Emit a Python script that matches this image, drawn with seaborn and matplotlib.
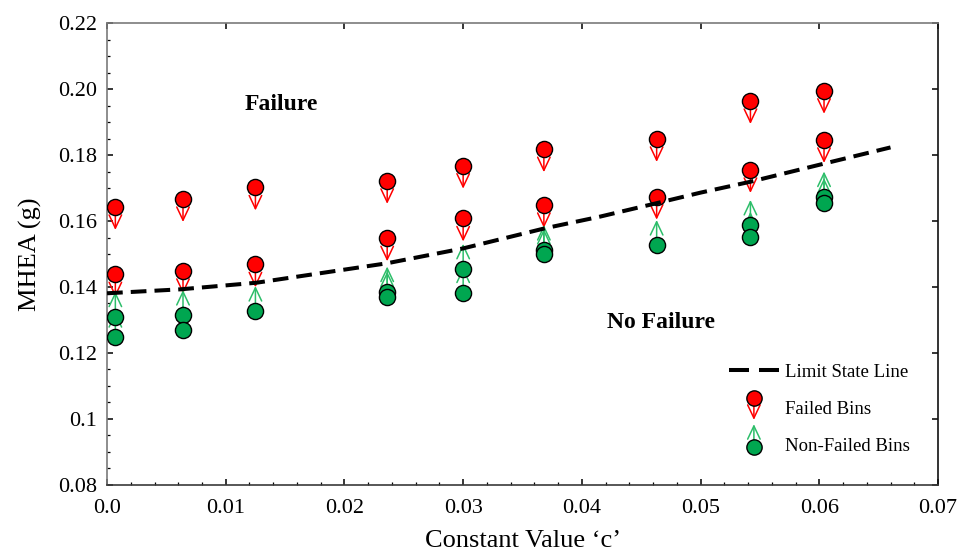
import matplotlib
matplotlib.use("Agg")
import matplotlib.pyplot as plt
import seaborn as sns
import pandas as pd
from matplotlib.lines import Line2D
from matplotlib.patches import FancyArrowPatch
from matplotlib.legend_handler import HandlerBase
from matplotlib.ticker import MultipleLocator, FixedLocator, FixedFormatter

# ---------------- data ----------------
failed_c = [0.0007, 0.0007, 0.0064, 0.0064, 0.0125, 0.0125, 0.0236, 0.0236, 0.0300,
            0.0300, 0.0368, 0.0368, 0.0463, 0.0463, 0.0542, 0.0542, 0.0604, 0.0604]
failed_v = [0.1643, 0.1439, 0.1667, 0.1449, 0.1702, 0.1469, 0.1722, 0.1548, 0.1768,
            0.1608, 0.1818, 0.1649, 0.1849, 0.1674, 0.1964, 0.1755, 0.1995, 0.1846]
nonfailed_c = [0.0007, 0.0007, 0.0064, 0.0064, 0.0125, 0.0236, 0.0236, 0.0300, 0.0300,
               0.0368, 0.0368, 0.0463, 0.0542, 0.0542, 0.0604, 0.0604]
nonfailed_v = [0.1310, 0.1248, 0.1315, 0.1270, 0.1327, 0.1386, 0.1371, 0.1455, 0.1383,
               0.1512, 0.1500, 0.1527, 0.1588, 0.1552, 0.1674, 0.1654]
limit_c = [0.0, 0.0062, 0.0126, 0.0236, 0.0300, 0.0369, 0.0415, 0.0463, 0.0500,
           0.0542, 0.0603, 0.0660]
limit_v = [0.1381, 0.1393, 0.1413, 0.1472, 0.1517, 0.1578, 0.1613, 0.1654, 0.1686,
           0.1719, 0.1773, 0.1823]

x_ticks = [0.0, 0.01, 0.02, 0.03, 0.04, 0.05, 0.06, 0.07]
x_ticklabels = ["0.0", "0.01", "0.02", "0.03", "0.04", "0.05", "0.06", "0.07"]
y_ticks = [0.08, 0.10, 0.12, 0.14, 0.16, 0.18, 0.20, 0.22]
y_ticklabels = ["0.08", "0.1", "0.12", "0.14", "0.16", "0.18", "0.20", "0.22"]

labels = ["Limit State Line", "Failed Bins", "Non-Failed Bins"]
region_texts = ["Failure", "No Failure"]

# ---------------- styling ----------------
sns.set_theme(style="ticks")
plt.rcParams["font.family"] = ["Liberation Serif", "DejaVu Serif"]
plt.rcParams["text.color"] = "black"
plt.rcParams["axes.labelcolor"] = "black"
plt.rcParams["xtick.color"] = "black"
plt.rcParams["ytick.color"] = "black"

RED = "#FF0000"
GREEN = "#00A650"
GREEN_ARROW = "#2DBE6A"
RED_LEN = 0.0070
GREEN_LEN = 0.0076
ARROW_STYLE = "->,head_length=0.95,head_width=0.45"

fig = plt.figure(figsize=(9.66, 5.52), dpi=100)
ax = fig.add_axes([0.1108, 0.1214, 0.8602, 0.8369])

# limit state line
sns.lineplot(x=limit_c, y=limit_v, ax=ax, color="black", linewidth=2.9, zorder=4,
             sort=False)
ax.lines[-1].set_dashes([3.9, 2.0])

# arrows
for c, v in zip(failed_c, failed_v):
    ax.annotate("", xy=(c, v - RED_LEN), xytext=(c, v),
                arrowprops=dict(arrowstyle=ARROW_STYLE, color=RED, lw=1.1,
                                shrinkA=0, shrinkB=0, mutation_scale=10),
                zorder=2)
for c, v in zip(nonfailed_c, nonfailed_v):
    ax.annotate("", xy=(c, v + GREEN_LEN), xytext=(c, v),
                arrowprops=dict(arrowstyle=ARROW_STYLE, color=GREEN_ARROW, lw=1.1,
                                shrinkA=0, shrinkB=0, mutation_scale=10),
                zorder=2)

# circles
df_f = pd.DataFrame({"c": failed_c, "v": failed_v})
df_n = pd.DataFrame({"c": nonfailed_c, "v": nonfailed_v})
sns.scatterplot(data=df_f, x="c", y="v", ax=ax, color=RED, s=135,
                edgecolor="black", linewidth=1.0, zorder=3, legend=False)
sns.scatterplot(data=df_n, x="c", y="v", ax=ax, color=GREEN, s=135,
                edgecolor="black", linewidth=1.0, zorder=3, legend=False)

# axes
ax.set_xlim(0.0, 0.07)
ax.set_ylim(0.08, 0.22)
ax.xaxis.set_major_locator(FixedLocator(x_ticks))
ax.xaxis.set_major_formatter(FixedFormatter(x_ticklabels))
ax.yaxis.set_major_locator(FixedLocator(y_ticks))
ax.yaxis.set_major_formatter(FixedFormatter(y_ticklabels))
ax.xaxis.set_minor_locator(MultipleLocator(0.002))
ax.yaxis.set_minor_locator(MultipleLocator(0.005))
ax.tick_params(which="both", direction="in", top=True, right=True,
               labelsize=16, colors="black")
ax.tick_params(which="major", length=4.5, width=1.1)
ax.tick_params(axis="x", which="major", pad=10)
ax.tick_params(axis="y", which="major", pad=7)
ax.tick_params(which="minor", length=2.2, width=0.9, top=False, right=False)
for side, col in [("left", "#7a7a7a"), ("top", "#7a7a7a"),
                  ("bottom", "#3a3a3a"), ("right", "#111111")]:
    ax.spines[side].set_color(col)
    ax.spines[side].set_linewidth(1.2)
ax.set_xlabel("Constant Value \u2018c\u2019", fontsize=19, labelpad=9)
ax.set_ylabel("MHEA (g)", fontsize=19, labelpad=12)
ax.grid(False)

ax.text(0.01163, 0.19545, region_texts[0], fontsize=17, fontweight="bold",
        ha="left", va="center")
ax.text(0.04212, 0.12939, region_texts[1], fontsize=17, fontweight="bold",
        ha="left", va="center")


# legend
class BinHandler(HandlerBase):
    def __init__(self, face, arrow_color, up):
        super().__init__()
        self.face = face
        self.arrow_color = arrow_color
        self.up = up

    def create_artists(self, legend, orig_handle, xdescent, ydescent, width,
                       height, fontsize, trans):
        cx = width / 2 - xdescent
        cy = height / 2 - ydescent
        if self.up:
            cyc = cy - 2.0
            tip = cyc + 16.5
        else:
            cyc = cy + 6.5
            tip = cyc - 15.5
        arrow = FancyArrowPatch((cx, cyc), (cx, tip), arrowstyle=ARROW_STYLE,
                                mutation_scale=10, color=self.arrow_color, lw=1.1,
                                shrinkA=0, shrinkB=0, transform=trans)
        circ = Line2D([cx], [cyc], marker="o", markersize=11,
                      markerfacecolor=self.face, markeredgecolor="black",
                      markeredgewidth=1.0, linestyle="none", transform=trans)
        return [arrow, circ]


class DashHandler(HandlerBase):
    def create_artists(self, legend, orig_handle, xdescent, ydescent, width,
                       height, fontsize, trans):
        cy = height / 2 - ydescent
        x0 = -xdescent
        seg = width * 0.4
        artists = []
        for start in (x0, x0 + width - seg):
            ln = Line2D([start, start + seg], [cy, cy], color="black",
                        linewidth=2.9, solid_capstyle="butt", transform=trans)
            artists.append(ln)
        return artists


h_line = Line2D([0], [0], color="black", linewidth=2.9, linestyle="--")
h_fail = Line2D([0], [0], linestyle="none")
h_non = Line2D([0], [0], linestyle="none", marker="o")
leg = ax.legend(handles=[h_line, h_fail, h_non], labels=labels,
                handler_map={h_line: DashHandler(),
                             h_fail: BinHandler(RED, RED, False),
                             h_non: BinHandler(GREEN, GREEN_ARROW, True)},
                loc="center left", bbox_to_anchor=(0.748, 0.168), frameon=False,
                fontsize=13.5, handlelength=2.7, handletextpad=0.3,
                handleheight=1.5, labelspacing=0.75, borderpad=0, borderaxespad=0)

fig.savefig("out.png", dpi=100)
